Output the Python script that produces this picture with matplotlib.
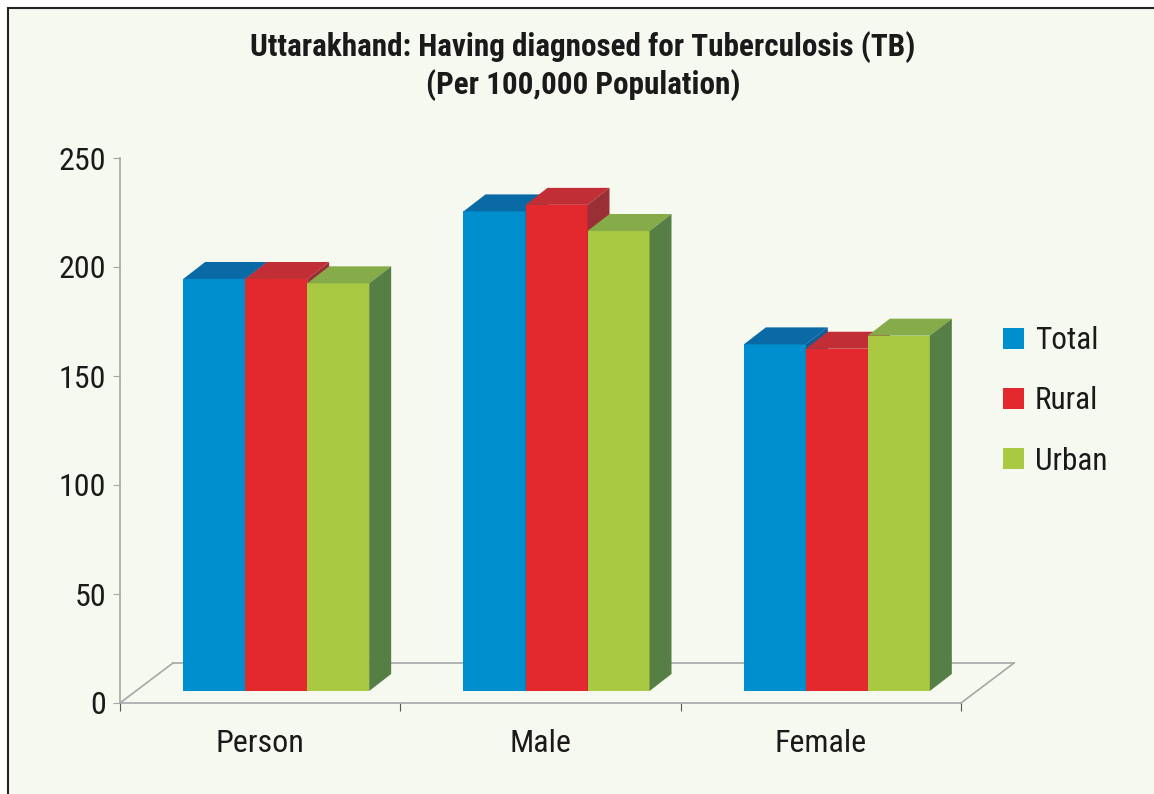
import numpy as np
import matplotlib
matplotlib.use("Agg")
import matplotlib.pyplot as plt
from matplotlib.patches import Polygon, Rectangle, Patch

# data
categories = ["Person", "Male", "Female"]
series = ["Total", "Rural", "Urban"]
total = [189, 220, 159]
rural = [189, 223, 157]
urban = [187, 211, 163]
yticks = [0, 50, 100, 150, 200, 250]

front_cols = ["#008fce", "#e3292e", "#a8c941"]
top_cols = ["#0a6aa6", "#c22e36", "#85ac48"]
side_cols = ["#0e5e96", "#9a3036", "#567f45"]
bg = "#f6f9ef"
grey = "#a3a9a9"

plt.rcParams["font.family"] = ["Roboto Condensed", "Liberation Sans", "DejaVu Sans"]

W, H = 1154, 794
fig = plt.figure(figsize=(W / 100, H / 100), dpi=100, facecolor="white")
frame = Rectangle((8 / W, -0.02), 1.1, 1 - 8 / H + 0.02, transform=fig.transFigure,
                  facecolor=bg, edgecolor="#222222", lw=1.5, zorder=-10)
fig.patches.append(frame)

ax = fig.add_axes([120 / W, 91 / H, 841 / W, 545 / H])
ax.patch.set_visible(False)
ax.set_xlim(0, 3)
ax.set_ylim(0, 250)

# pixel -> data units for the fake 3d offsets
PX = 3 / 841
PY = 250 / 545
fx, fy = 16 * PX, 12 * PY      # bars stand a bit behind the front edge
bdx, bdy = 22 * PX, 17 * PY    # bar depth
ddx, ddy = 53 * PX, 40 * PY    # floor depth

# floor
ax.plot([0, ddx], [0, ddy], color=grey, lw=1.2, clip_on=False, zorder=1)
ax.plot([3, 3 + ddx], [0, ddy], color=grey, lw=1.2, clip_on=False, zorder=1)
ax.plot([ddx, 3 + ddx], [ddy, ddy], color=grey, lw=1.2, clip_on=False, zorder=1)

bw = 62 * PX
for j, vals in enumerate([total, rural, urban]):
    xs = np.arange(len(categories)) + 0.5 + fx + (j - 1) * bw
    z = 3 + j
    ax.bar(xs, vals, bw, bottom=fy, color=front_cols[j], zorder=z, label=series[j])
    for x, v in zip(xs, vals):
        x0, x1, t = x - bw / 2, x + bw / 2, fy + v
        ax.add_patch(Polygon([(x0, t), (x0 + bdx, t + bdy), (x1 + bdx, t + bdy), (x1, t)],
                             closed=True, facecolor=top_cols[j], edgecolor="none",
                             zorder=z + 0.1, clip_on=False))
        ax.add_patch(Polygon([(x1, fy), (x1 + bdx, fy + bdy), (x1 + bdx, t + bdy), (x1, t)],
                             closed=True, facecolor=side_cols[j], edgecolor="none",
                             zorder=z + 0.2, clip_on=False))

for s in ["top", "right"]:
    ax.spines[s].set_visible(False)
for s in ["left", "bottom"]:
    ax.spines[s].set_color(grey)
    ax.spines[s].set_linewidth(1.2)

ax.set_yticks(yticks)
ax.tick_params(axis="y", length=5, color=grey, labelsize=23, pad=5, labelcolor="#1a1a1a")
ax.set_xticks([0, 1, 2, 3])
ax.set_xticklabels([])
ax.tick_params(axis="x", which="major", length=6, color="#555555")
ax.set_xticks([0.5, 1.5, 2.5], minor=True)
ax.set_xticklabels(categories, minor=True)
ax.tick_params(axis="x", which="minor", length=0, labelsize=23, pad=19, labelcolor="#1a1a1a")

handles = [Patch(facecolor=c) for c in front_cols]
fig.legend(handles, series, loc="upper left", bbox_to_anchor=(1003 / W, 1 - 326 / H),
           frameon=False, fontsize=22.5, handlelength=0.66, handleheight=0.66,
           handletextpad=0.35, labelspacing=1.0, borderpad=0, borderaxespad=0,
           labelcolor="#1a1a1a")

fig.text(583 / W, 1 - 66 / H, "Uttarakhand: Having diagnosed for Tuberculosis (TB)\n(Per 100,000 Population)",
         ha="center", va="center", fontsize=22.4, fontweight="bold", color="#1a1a1a", linespacing=1.23)

fig.savefig("out.png", dpi=100, facecolor=fig.get_facecolor())
